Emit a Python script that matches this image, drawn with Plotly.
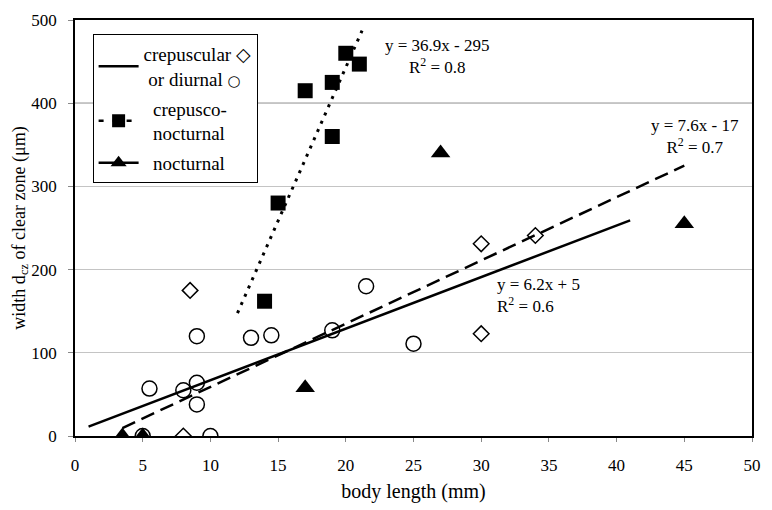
import plotly.graph_objects as go

# ---- data ----
diam_x = [8.5, 8, 30, 34, 30]
diam_y = [175, 0, 231, 241, 123]

circ_x = [5.5, 8, 9, 9, 9, 5, 10, 13, 14.5, 19, 21.5, 25]
circ_y = [57, 55, 64, 38, 120, 0, 0, 118, 121, 127, 180, 111]

sq_x = [14, 15, 17, 19, 19, 20, 21]
sq_y = [162, 280, 415, 360, 425, 460, 447]

tri_x = [3.5, 5, 17, 27, 45]
tri_y = [0, 0, 58, 340, 255]

# trend lines (end points)
solid_x = [1, 41]
solid_y = [11.2, 259.2]
dash_x = [3.5, 45]
dash_y = [9.6, 325]
dot_x = [12, 21.2]
dot_y = [147.8, 487.3]

x_ticks = [0, 5, 10, 15, 20, 25, 30, 35, 40, 45, 50]
y_ticks = [0, 100, 200, 300, 400, 500]

FONT = "Liberation Serif, Times New Roman, serif"
BLACK = "black"

fig = go.Figure()

# trend lines
fig.add_trace(go.Scatter(x=solid_x, y=solid_y, mode="lines",
                         line=dict(color=BLACK, width=2.5), showlegend=False))
fig.add_trace(go.Scatter(x=dash_x, y=dash_y, mode="lines",
                         line=dict(color=BLACK, width=2.5, dash="14px,7px"), showlegend=False))
fig.add_trace(go.Scatter(x=dot_x, y=dot_y, mode="lines",
                         line=dict(color=BLACK, width=3, dash="3px,6px"), showlegend=False))

# markers
fig.add_trace(go.Scatter(x=diam_x, y=diam_y, mode="markers", showlegend=False,
                         marker=dict(symbol="diamond-open", size=12, color=BLACK,
                                     line=dict(width=1.5, color=BLACK))))
fig.add_trace(go.Scatter(x=circ_x, y=circ_y, mode="markers", showlegend=False,
                         marker=dict(symbol="circle-open", size=15, color=BLACK,
                                     line=dict(width=1.5, color=BLACK))))
fig.add_trace(go.Scatter(x=sq_x, y=sq_y, mode="markers", showlegend=False,
                         marker=dict(symbol="square", size=15, color=BLACK)))
fig.add_trace(go.Scatter(x=tri_x, y=tri_y, mode="markers", showlegend=False,
                         marker=dict(symbol="triangle-up", size=17, color=BLACK)))

# legend entries
fig.add_trace(go.Scatter(x=[None], y=[None], mode="lines", legendgroup="a",
                         name="crepuscular \u25c7<br> or diurnal "
                              "<span style=\"font-family:'DejaVu Sans';font-size:15px\">\u25cb</span>",
                         line=dict(color=BLACK, width=2.5)))
fig.add_trace(go.Scatter(x=[None], y=[None], mode="lines+markers", legendgroup="b",
                         name="  crepusco-<br>  nocturnal",
                         line=dict(color=BLACK, width=2.5, dash="5px,9px"),
                         marker=dict(symbol="square", size=13, color=BLACK)))
fig.add_trace(go.Scatter(x=[None], y=[None], mode="lines+markers", legendgroup="c",
                         name="  nocturnal",
                         line=dict(color=BLACK, width=2.5),
                         marker=dict(symbol="triangle-up", size=14, color=BLACK)))

ann_font = dict(family=FONT, size=17, color=BLACK)
fig.add_annotation(x=26.8, y=456, xref="x", yref="y", showarrow=False, align="center",
                   text="y = 36.9x - 295<br>R<sup>2</sup> = 0.8", font=ann_font)
fig.add_annotation(x=45.8, y=360, xref="x", yref="y", showarrow=False, align="center",
                   text="y = 7.6x - 17<br>R<sup>2</sup> = 0.7", font=ann_font)
fig.add_annotation(x=31.0, y=169, xref="x", yref="y", showarrow=False, align="left",
                   xanchor="left",
                   text="y = 6.2x + 5<br>R<sup>2</sup> = 0.6", font=ann_font)

# darker gridline at 400
fig.add_shape(type="line", xref="paper", yref="y", x0=0, x1=1, y0=400, y1=400,
              line=dict(color="#555555", width=1), layer="below")

fig.update_layout(
    width=772, height=510,
    margin=dict(l=75, r=11, t=14, b=71),
    paper_bgcolor="white", plot_bgcolor="white",
    font=dict(family=FONT, size=17, color=BLACK),
    legend=dict(x=0.026, y=0.966, xanchor="left", yanchor="top",
                bgcolor="white", bordercolor=BLACK, borderwidth=1,
                font=dict(family=FONT, size=19, color=BLACK),
                traceorder="grouped", tracegroupgap=2, itemwidth=40),
    xaxis=dict(range=[0, 50], tickvals=x_ticks, ticktext=[str(v) for v in x_ticks],
               showgrid=False, zeroline=False,
               showline=True, linecolor=BLACK, linewidth=1.5, mirror=True,
               ticks="outside", ticklen=4, tickcolor="#888888",
               ticklabelstandoff=9,
               tickfont=dict(family=FONT, size=17),
               title=dict(text="body length (mm)", font=dict(family=FONT, size=20), standoff=10)),
    yaxis=dict(range=[0, 500], tickvals=y_ticks, ticktext=[str(v) for v in y_ticks],
               showgrid=True, gridcolor="#c4c4c4", gridwidth=1, zeroline=False,
               showline=True, linecolor=BLACK, linewidth=1.5, mirror=True,
               ticks="outside", ticklen=5, tickcolor="#888888",
               ticklabelstandoff=8,
               tickfont=dict(family=FONT, size=17),
               title=dict(text="width d<sub>cz</sub> of clear zone (\u03bcm)",
                          font=dict(family=FONT, size=18), standoff=0)),
)

fig.write_html("out.html")
